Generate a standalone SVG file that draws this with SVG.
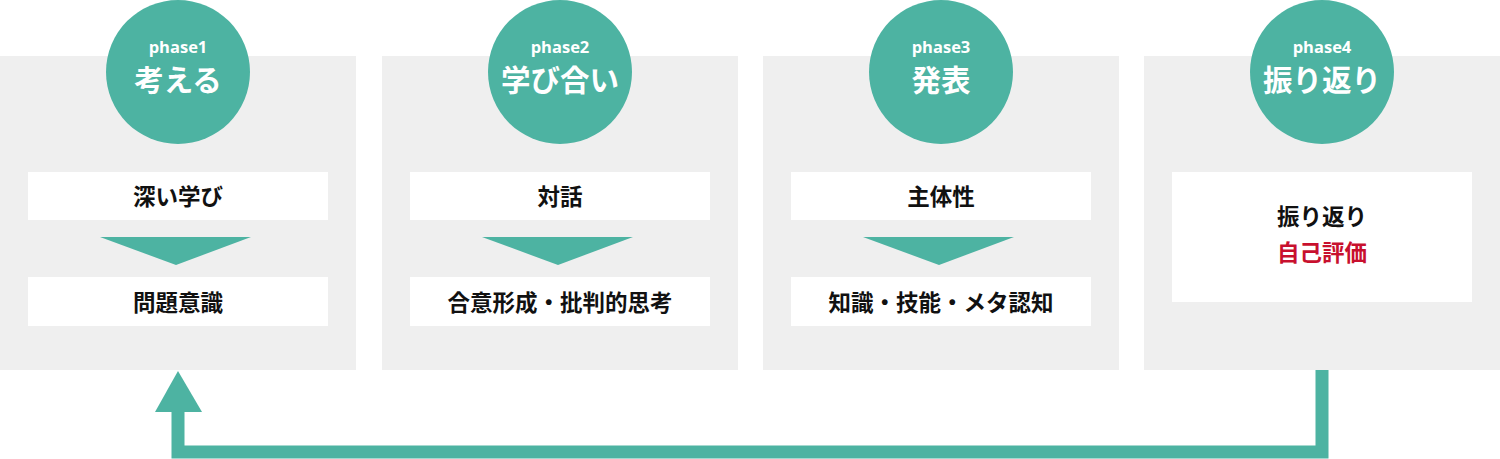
<svg xmlns="http://www.w3.org/2000/svg" width="1500" height="459" viewBox="0 0 1500 459">
<style>
.panel{fill:#efefef}
.circ{fill:#4db3a2}
.box{fill:#ffffff}
.tri{fill:#4db3a2}
.ph{font-family:"Open Sans","Noto Sans",sans-serif;font-weight:700;font-size:16.5px;fill:#ffffff;text-anchor:middle}
.ttl{font-family:"Noto Sans CJK JP",sans-serif;font-weight:700;font-size:29.5px;fill:#ffffff;text-anchor:middle}
.lbl{font-family:"Noto Sans CJK JP",sans-serif;font-weight:700;font-size:22.5px;fill:#111111;text-anchor:middle}
.red{fill:#c8102e}
</style>
<rect width="1500" height="459" fill="#ffffff"/>
<g id="phase1">
<rect class="panel" x="0" y="56" width="356" height="314"/>
<circle class="circ" cx="178" cy="72" r="72"/>
<text class="ph" x="178" y="53">phase1</text>
<text class="ttl" x="178" y="91">考える</text>
<rect class="box" x="28" y="172" width="300" height="48"/>
<text class="lbl" x="178" y="205">深い学び</text>
<polygon class="tri" points="100,237 251,237 176,265"/>
<rect class="box" x="28" y="277" width="300" height="49"/>
<text class="lbl" x="178" y="311">問題意識</text>
</g>
<g id="phase2">
<rect class="panel" x="382" y="56" width="356" height="314"/>
<circle class="circ" cx="560" cy="72" r="72"/>
<text class="ph" x="560" y="53">phase2</text>
<text class="ttl" x="560" y="91">学び合い</text>
<rect class="box" x="410" y="172" width="300" height="48"/>
<text class="lbl" x="560" y="205">対話</text>
<polygon class="tri" points="482,237 633,237 558,265"/>
<rect class="box" x="410" y="277" width="300" height="49"/>
<text class="lbl" x="560" y="311">合意形成・批判的思考</text>
</g>
<g id="phase3">
<rect class="panel" x="763" y="56" width="356" height="314"/>
<circle class="circ" cx="941" cy="72" r="72"/>
<text class="ph" x="941" y="53">phase3</text>
<text class="ttl" x="941" y="91">発表</text>
<rect class="box" x="791" y="172" width="300" height="48"/>
<text class="lbl" x="941" y="205">主体性</text>
<polygon class="tri" points="863,237 1014,237 939,265"/>
<rect class="box" x="791" y="277" width="300" height="49"/>
<text class="lbl" x="941" y="311">知識・技能・メタ認知</text>
</g>
<g id="phase4">
<rect class="panel" x="1144" y="56" width="356" height="314"/>
<circle class="circ" cx="1322" cy="72" r="72"/>
<text class="ph" x="1322" y="53">phase4</text>
<text class="ttl" x="1322" y="91">振り返り</text>
<rect class="box" x="1172" y="172" width="300" height="130"/>
<text class="lbl" x="1322" y="225">振り返り</text>
<text class="lbl red" x="1322" y="261">自己評価</text>
</g>
<g id="connectors">
<polyline points="1322,370 1322,452 178,452 178,410" fill="none" stroke="#4db3a2" stroke-width="13"/>
<polygon points="178,371 202,412 155,412" fill="#4db3a2"/>
</g>
</svg>
